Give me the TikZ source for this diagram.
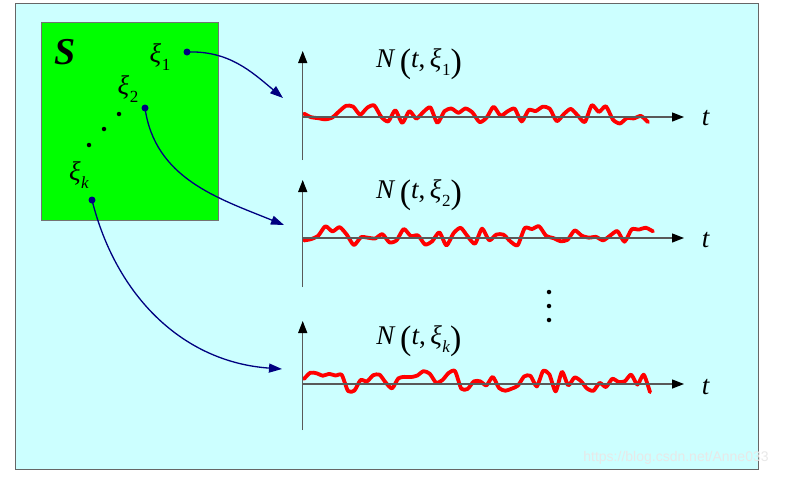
\documentclass[tikz,border=0pt]{standalone}
\usepackage{fontspec}
\setmainfont{Liberation Serif}
\newfontfamily\marksans{Liberation Sans}
\usetikzlibrary{arrows.meta}
\definecolor{skyfill}{HTML}{CCFFFF}
\definecolor{boxgreen}{HTML}{00FF00}
\definecolor{linknavy}{HTML}{000080}
\newcommand\lpar{\raisebox{-0.17em}{\fontsize{34}{34}\selectfont(}}
\newcommand\rpar{\raisebox{-0.17em}{\fontsize{34}{34}\selectfont)}}
\newcommand\xisub[1]{\textit{ξ}\kern0.02em\raisebox{-0.3em}{\fontsize{17}{17}\selectfont #1}}
\tikzset{
  axisline/.style={draw=black!65, line width=1.3pt, -{Triangle[length=12pt,width=9pt,color=black]}},
  noise/.style={red, line width=3.8pt, line join=round, line cap=round},
  linkarrow/.style={linknavy, line width=1.3pt, -{Triangle[length=13pt,width=9pt]}},
  pick/.style={circle, fill=linknavy, inner sep=0pt, minimum size=7pt},
  dotmark/.style={circle, fill=black, inner sep=0pt, minimum size=4.5pt},
  funclabel/.style={font=\fontsize{27}{30}\selectfont},
  xilabel/.style={font=\fontsize{27}{30}\selectfont}
}
\begin{document}
\begin{tikzpicture}[x=1pt,y=-1pt]
    \useasboundingbox (0,0) rectangle (791,477);
    \begin{scope}

    % frame and sample space
    \filldraw[fill=skyfill, draw=black!60, line width=1pt] (15,3.5) rectangle (758.5,469);
    \filldraw[fill=boxgreen, draw=black!55, line width=1pt] (41,22) rectangle (218,220);

    \node (S) at (65,52) {\fontsize{38}{40}\selectfont\bfseries\itshape S};
    \node[xilabel] (xi1) at (160,57) {\xisub{1}};
    \node[xilabel] (xi2) at (128,89) {\xisub{2}};
    \node[xilabel] (xik) at (79,175) {\xisub{\textit{k}}};
    \node[pick] (p1) at (187,52) {};
    \node[pick] (p2) at (145,108) {};
    \node[pick] (pk) at (92,200) {};
    \node[dotmark] (d1) at (119,114) {};
    \node[dotmark] (d2) at (104,129) {};
    \node[dotmark] (d3) at (89,145) {};

    % three time axes
    \coordinate (o1) at (302.7,117);
    \coordinate (o2) at (302.7,238);
    \coordinate (o3) at (302.7,384);
    \coordinate (v1b) at (302.7,160);
    \coordinate (v1t) at (302.7,51);
    \coordinate (v2b) at (302.7,287);
    \coordinate (v2t) at (302.7,180);
    \coordinate (v3b) at (302.7,430);
    \coordinate (v3t) at (302.7,321);
    \coordinate (h1) at (684,117);
    \coordinate (h2) at (684,238);
    \coordinate (h3) at (684,384);

    \pgfmathsetseed{11}
    \draw[noise] plot[smooth, tension=0.4, domain=304:648, samples=50] (\x,{114-10.5*rand});
    \pgfmathsetseed{23}
    \draw[noise] plot[smooth, tension=0.4, domain=304:653, samples=50] (\x,{235-10.5*rand});
    \pgfmathsetseed{41}
    \draw[noise] plot[smooth, tension=0.4, domain=304:650, samples=56] (\x,{382-11*rand});

    \draw[axisline] (v1b) -- (v1t);
    \draw[axisline] (o1) -- (h1);
    \draw[axisline] (v2b) -- (v2t);
    \draw[axisline] (o2) -- (h2);
    \draw[axisline] (v3b) -- (v3t);
    \draw[axisline] (o3) -- (h3);

    \node[funclabel] (n1) at (419,64) {\textit{N}\,\lpar\textit{t},\,\xisub{1}\rpar};
    \node[funclabel] (n2) at (419,195) {\textit{N}\,\lpar\textit{t},\,\xisub{2}\rpar};
    \node[funclabel] (nk) at (419,341) {\textit{N}\,\lpar\textit{t},\,\xisub{\textit{k}}\rpar};
    \node[xilabel] (t1) at (706,118) {\textit{t}};
    \node[xilabel] (t2) at (706,240) {\textit{t}};
    \node[xilabel] (t3) at (706,387) {\textit{t}};

    \node[dotmark] (e1) at (549,292) {};
    \node[dotmark] (e2) at (549,306) {};
    \node[dotmark] (e3) at (549,320) {};

    % sample point to its path
    \coordinate (a1) at (283,98);
    \coordinate (a2) at (284,225);
    \coordinate (ak) at (282,369);
    \draw[linkarrow] (p1.center) to[out=2,in=140] (a1);
    \draw[linkarrow] (p2.center) to[out=-82,in=158] (a2);
    \draw[linkarrow] (pk.center) to[out=-76,in=176] (ak);

    \node[text=white!82!gray, font=\marksans\fontsize{14}{16}\selectfont] (mark) at (676,458) {https://blog.csdn.net/Anne033};

    \end{scope}
\end{tikzpicture}
\end{document}
